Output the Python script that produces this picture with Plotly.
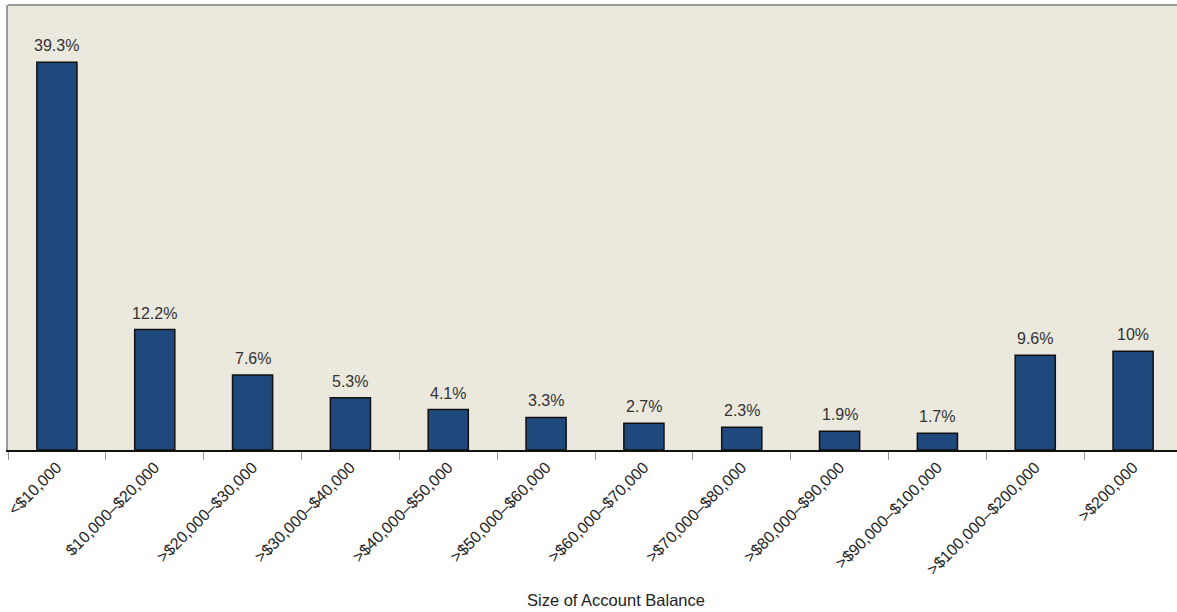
import plotly.graph_objects as go

categories = ["<$10,000", "$10,000–$20,000", ">$20,000–$30,000", ">$30,000–$40,000",
              ">$40,000–$50,000", ">$50,000–$60,000", ">$60,000–$70,000", ">$70,000–$80,000",
              ">$80,000–$90,000", ">$90,000–$100,000", ">$100,000–$200,000", ">$200,000"]
values = [39.3, 12.2, 7.6, 5.3, 4.1, 3.3, 2.7, 2.3, 1.9, 1.7, 9.6, 10]
labels = ["39.3%", "12.2%", "7.6%", "5.3%", "4.1%", "3.3%", "2.7%", "2.3%", "1.9%", "1.7%", "9.6%", "10%"]

FONT = "Liberation Sans, Arial"

fig = go.Figure(go.Bar(
    x=categories, y=values,
    marker=dict(color="#1F497D", line=dict(color="#111111", width=1.5)),
    width=0.41, cliponaxis=False, hoverinfo="skip",
))

annotations = [dict(x=c, y=v, text=t, showarrow=False, yanchor="bottom", yshift=6,
                    font=dict(family=FONT, size=16, color="#333333"))
               for c, v, t in zip(categories, values, labels)]
annotations.append(dict(x=0.518, y=0, xref="paper", yref="paper", yshift=-150, yanchor="middle",
                        text="Size of Account Balance", showarrow=False,
                        font=dict(family=FONT, size=16.5, color="#222222")))

fig.update_layout(
    width=1182, height=612,
    margin=dict(l=8, r=0, t=5, b=162, autoexpand=False),
    paper_bgcolor="white", plot_bgcolor="#EBE8DD",
    font=dict(family=FONT, color="#222222"),
    showlegend=False,
    xaxis=dict(
        tickangle=-45, tickfont=dict(size=16, color="#222222"),
        ticks="outside", tickson="boundaries", ticklen=8, tickcolor="#999999",
        showline=True, linecolor="#111111", linewidth=1.5,
        showgrid=False, automargin=False,
    ),
    yaxis=dict(
        range=[0, 45.1], showticklabels=False, showgrid=False, zeroline=False,
        showline=True, linecolor="#999999", linewidth=2, ticks="", automargin=False,
    ),
    annotations=annotations,
    shapes=[dict(type="line", xref="paper", yref="paper", x0=0, x1=1, y0=1, y1=1,
                 line=dict(color="#999999", width=2))],
)

fig.write_html("out.html", config={"displayModeBar": False},
               post_script="document.body.style.margin='0';document.body.style.overflow='hidden';")
